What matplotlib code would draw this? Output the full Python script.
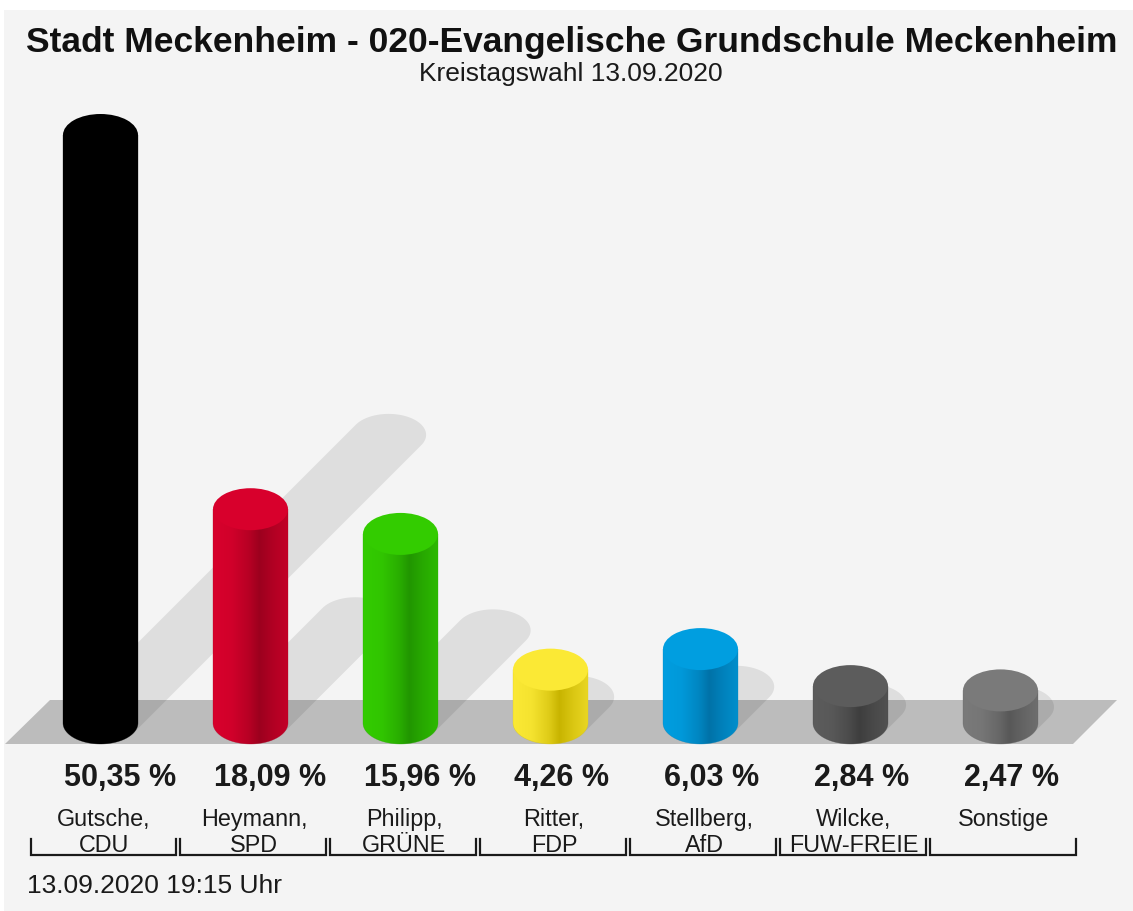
import numpy as np
import matplotlib
matplotlib.use("Agg")
import matplotlib.pyplot as plt
from matplotlib.patches import Ellipse, Polygon, PathPatch, Rectangle
from matplotlib.path import Path
from matplotlib.colors import to_rgb

plt.rcParams['font.family'] = ['Liberation Sans', 'DejaVu Sans']

# ---------------- data ----------------
title = "Stadt Meckenheim - 020-Evangelische Grundschule Meckenheim"
subtitle = "Kreistagswahl 13.09.2020"
timestamp = "13.09.2020 19:15 Uhr"
candidates = ["Gutsche,", "Heymann,", "Philipp,", "Ritter,", "Stellberg,", "Wilcke,", "Sonstige"]
parties = ["CDU", "SPD", "GRÜNE", "FDP", "AfD", "FUW-FREIE", ""]
values = [50.35, 18.09, 15.96, 4.26, 6.03, 2.84, 2.47]
value_labels = ["50,35 %", "18,09 %", "15,96 %", "4,26 %", "6,03 %", "2,84 %", "2,47 %"]
top_colors = ["#000000", "#d8002c", "#33cc00", "#fbe935", "#009ee0", "#5c5c5c", "#7a7a7a"]
dark_colors = ["#000000", "#9c001e", "#219600", "#c8b400", "#0072a8", "#3e3e3e", "#585858"]

# ---------------- layout (pixels) ----------------
W, H = 1133, 911
X0, Y0 = 100.5, 723.0      # centre of first bar base ellipse
PXX, PXY = 150.0, 11.6     # px per category, px per percent
BASE = 0.34                # minimum cylinder height (percent units)
HALF_W = 37.5 / PXX
ELL_B = 21.0 / PXY
SHADOW = 0.49

def dy(p):
    return (Y0 - p) / PXY

def dx(p):
    return (p - X0) / PXX

fig = plt.figure(figsize=(W / 100, H / 100), dpi=100)
fig.patch.set_facecolor("#f4f4f4")
ax = fig.add_axes([0, 0, 1, 1])
ax.set_facecolor("#f4f4f4")
ax.axis("off")

xlim = (dx(0), dx(W))
ylim = (dy(H), dy(0))

# white border
ax.add_patch(Rectangle((xlim[0], dy(10)), xlim[1] - xlim[0], dy(0) - dy(10),
                       facecolor="white", edgecolor="none", zorder=0))
ax.add_patch(Rectangle((xlim[0], ylim[0]), dx(4) - xlim[0], ylim[1] - ylim[0],
                       facecolor="white", edgecolor="none", zorder=0))

# floor
floor = Polygon([(dx(5), dy(744)), (dx(50), dy(700)), (dx(1117), dy(700)), (dx(1073), dy(744))],
                closed=True, facecolor="#bcbcbc", edgecolor="none", zorder=1)
ax.add_patch(floor)


def hull(points):
    pts = sorted(map(tuple, points))
    def cross(o, a, b):
        return (a[0] - o[0]) * (b[1] - o[1]) - (a[1] - o[1]) * (b[0] - o[0])
    lower, upper = [], []
    for p in pts:
        while len(lower) >= 2 and cross(lower[-2], lower[-1], p) <= 0:
            lower.pop()
        lower.append(p)
    for p in reversed(pts):
        while len(upper) >= 2 and cross(upper[-2], upper[-1], p) <= 0:
            upper.pop()
        upper.append(p)
    return lower[:-1] + upper[:-1]

theta = np.linspace(0, 2 * np.pi, 120, endpoint=False)
for i, v in enumerate(values):
    h = v + BASE
    hpx = h * PXY
    sx = SHADOW * hpx / PXX
    sy = SHADOW * h
    e1 = np.column_stack([i + HALF_W * np.cos(theta), ELL_B * np.sin(theta)])
    e2 = np.column_stack([i + sx + HALF_W * np.cos(theta), sy + ELL_B * np.sin(theta)])
    pts = np.vstack([e1, e2]) * np.array([PXX, PXY])
    hp = np.array(hull(pts)) / np.array([PXX, PXY])
    ax.add_patch(Polygon(hp, closed=True, facecolor="black", alpha=0.085,
                         edgecolor="none", zorder=2))

# cylinders
t = np.linspace(0, 1, 300)
mix = np.interp(t, [0.0, 0.25, 0.48, 0.62, 0.8, 1.0], [0.0, 0.12, 0.55, 1.0, 0.65, 0.35])
for i, v in enumerate(values):
    h = v + BASE
    c1 = np.array(to_rgb(top_colors[i]))
    c2 = np.array(to_rgb(dark_colors[i]))
    body_col = c1[None, :] * (1 - mix[:, None]) + c2[None, :] * mix[:, None]
    img = body_col[None, :, :]
    ang = np.linspace(np.pi, 2 * np.pi, 60)
    verts = [(i - HALF_W, h), (i - HALF_W, 0)]
    verts += list(zip(i + HALF_W * np.cos(ang), ELL_B * np.sin(ang)))
    verts += [(i + HALF_W, 0), (i + HALF_W, h), (i - HALF_W, h)]
    path = Path(verts, closed=True)
    patch = PathPatch(path, facecolor="none", edgecolor="none", zorder=3)
    ax.add_patch(patch)
    im = ax.imshow(img, extent=[i - HALF_W, i + HALF_W, -ELL_B, h], aspect="auto",
                   interpolation="bilinear", zorder=3, origin="upper")
    im.set_clip_path(patch)
    ax.add_patch(PathPatch(path, facecolor="none", edgecolor=body_col[len(t) // 2],
                           lw=0.4, alpha=0.5, zorder=3.5))
    ax.add_patch(Ellipse((i, h), 2 * HALF_W, 2 * ELL_B, facecolor=top_colors[i],
                         edgecolor="none", zorder=4))

# value labels
for i, lab in enumerate(value_labels):
    ax.text(i - HALF_W + 1.5 / PXX, dy(786), lab, ha="left", va="baseline",
            fontsize=22, fontweight="bold", color="#1a1a1a", zorder=5)

# names and brackets
for i in range(len(values)):
    cx = i + 3.5 / PXX
    ax.text(cx, dy(826), candidates[i], ha="center", va="baseline", fontsize=16.8,
            color="#1a1a1a", zorder=5)
    if parties[i]:
        ax.text(cx, dy(852), parties[i], ha="center", va="baseline", fontsize=16.8,
                color="#1a1a1a", zorder=5)
    xl = i - 70 / PXX
    xr = i + 75.5 / PXX
    ax.plot([xl, xl, xr, xr], [dy(839), dy(855), dy(855), dy(839)], color="#1a1a1a",
            lw=1.6, solid_joinstyle="miter", zorder=5)

# title texts
ax.text(dx(572), dy(52), title, ha="center", va="baseline", fontsize=25.5,
        fontweight="bold", color="#111111", zorder=5)
ax.text(dx(571), dy(81), subtitle, ha="center", va="baseline", fontsize=19,
        color="#1a1a1a", zorder=5)
ax.text(dx(27), dy(893), timestamp, ha="left", va="baseline", fontsize=19,
        color="#1a1a1a", zorder=5)

ax.set_xlim(*xlim)
ax.set_ylim(*ylim)
fig.savefig("out.png", dpi=100, facecolor=fig.get_facecolor())
